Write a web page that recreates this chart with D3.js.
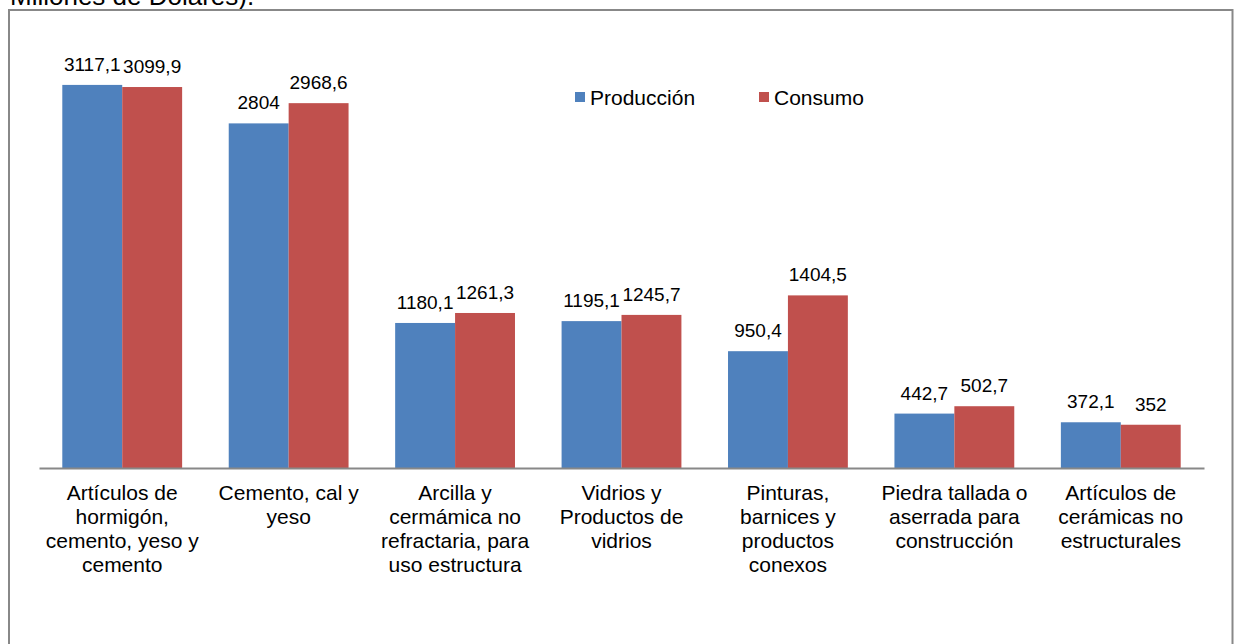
<!DOCTYPE html>
<html>
<head>
<meta charset="utf-8">
<script src="https://cdn.jsdelivr.net/npm/d3@7"></script>
<style>
  html, body { margin: 0; padding: 0; background: #fff; }
  svg { display: block; }
  text { font-family: "Liberation Sans", Arial, sans-serif; fill: #000; }
</style>
</head>
<body>
<svg id="chart" width="1237" height="644"></svg>
<script>
const categories = [
  ["Artículos de", "hormigón,", "cemento, yeso y", "cemento"],
  ["Cemento, cal y", "yeso"],
  ["Arcilla y", "cermámica no", "refractaria, para", "uso estructura"],
  ["Vidrios y", "Productos de", "vidrios"],
  ["Pinturas,", "barnices y", "productos", "conexos"],
  ["Piedra tallada o", "aserrada para", "construcción"],
  ["Artículos de", "cerámicas no", "estructurales"]
];
const seriesNames = ["Producción", "Consumo"];
const produccion = [3117.1, 2804, 1180.1, 1195.1, 950.4, 442.7, 372.1];
const consumo = [3099.9, 2968.6, 1261.3, 1245.7, 1404.5, 502.7, 352];
const valueLabelsProd = ["3117,1", "2804", "1180,1", "1195,1", "950,4", "442,7", "372,1"];
const valueLabelsCons = ["3099,9", "2968,6", "1261,3", "1245,7", "1404,5", "502,7", "352"];
const colors = ["#4F81BD", "#C0504D"];
const titleText = "Millones de Dólares).";

const svg = d3.select("#chart");

// Title fragment (cut off at top)
svg.append("text").attr("x", 10).attr("y", 5)
  .style("font-size", "26px").text(titleText);

// Chart border
svg.append("rect").attr("x", 9).attr("y", 10).attr("width", 1223.5).attr("height", 700)
  .attr("fill", "none").attr("stroke", "#888").attr("stroke-width", 2);

const idx = d3.range(categories.length);
const x0 = d3.scaleBand().domain(idx).range([39, 1204]).padding(0);
const x1 = d3.scaleBand().domain(seriesNames)
  .range([x0.bandwidth() * 0.14, x0.bandwidth() * 0.86]).padding(0);
const y = d3.scaleLinear().domain([0, 3500]).range([468, 468 - 3500 * 0.1229]);

const data = idx.map(i => ({
  i,
  vals: [
    { s: seriesNames[0], v: produccion[i], lab: valueLabelsProd[i], c: colors[0] },
    { s: seriesNames[1], v: consumo[i], lab: valueLabelsCons[i], c: colors[1] }
  ]
}));

const g = svg.selectAll("g.grp").data(data).enter().append("g")
  .attr("class", "grp")
  .attr("transform", d => `translate(${x0(d.i)},0)`);

g.selectAll("rect").data(d => d.vals).enter().append("rect")
  .attr("x", d => x1(d.s))
  .attr("y", d => y(d.v))
  .attr("width", x1.bandwidth())
  .attr("height", d => y(0) - y(d.v))
  .attr("fill", d => d.c);

g.selectAll("text.val").data(d => d.vals).enter().append("text")
  .attr("class", "val")
  .attr("x", d => x1(d.s) + x1.bandwidth() / 2)
  .attr("y", d => y(d.v) - 14)
  .attr("text-anchor", "middle")
  .style("font-size", "19px")
  .text(d => d.lab);

// Axis line
const xAxis = d3.axisBottom(x0).tickSize(0).tickFormat("");
const ax = svg.append("g").attr("transform", `translate(0,${y(0)})`).call(xAxis);
ax.select(".domain").attr("stroke", "#888").attr("stroke-width", 2);

// Category labels
const catG = svg.selectAll("text.cat").data(idx).enter().append("text")
  .attr("class", "cat")
  .attr("text-anchor", "middle")
  .style("font-size", "21px")
  .attr("transform", i => `translate(${x0(i) + x0.bandwidth() / 2},500)`);
catG.selectAll("tspan").data(i => categories[i]).enter().append("tspan")
  .attr("x", 0)
  .attr("y", (d, k) => k * 24)
  .text(d => d);

// Legend
const legendX = [575, 759];
const lg = svg.selectAll("g.leg").data(seriesNames).enter().append("g")
  .attr("class", "leg")
  .attr("transform", (d, k) => `translate(${legendX[k]},0)`);
lg.append("rect").attr("x", 0).attr("y", 92).attr("width", 10).attr("height", 10)
  .attr("fill", (d, k) => colors[k]);
lg.append("text").attr("x", 15).attr("y", 105).style("font-size", "21px").text(d => d);
</script>
</body>
</html>
